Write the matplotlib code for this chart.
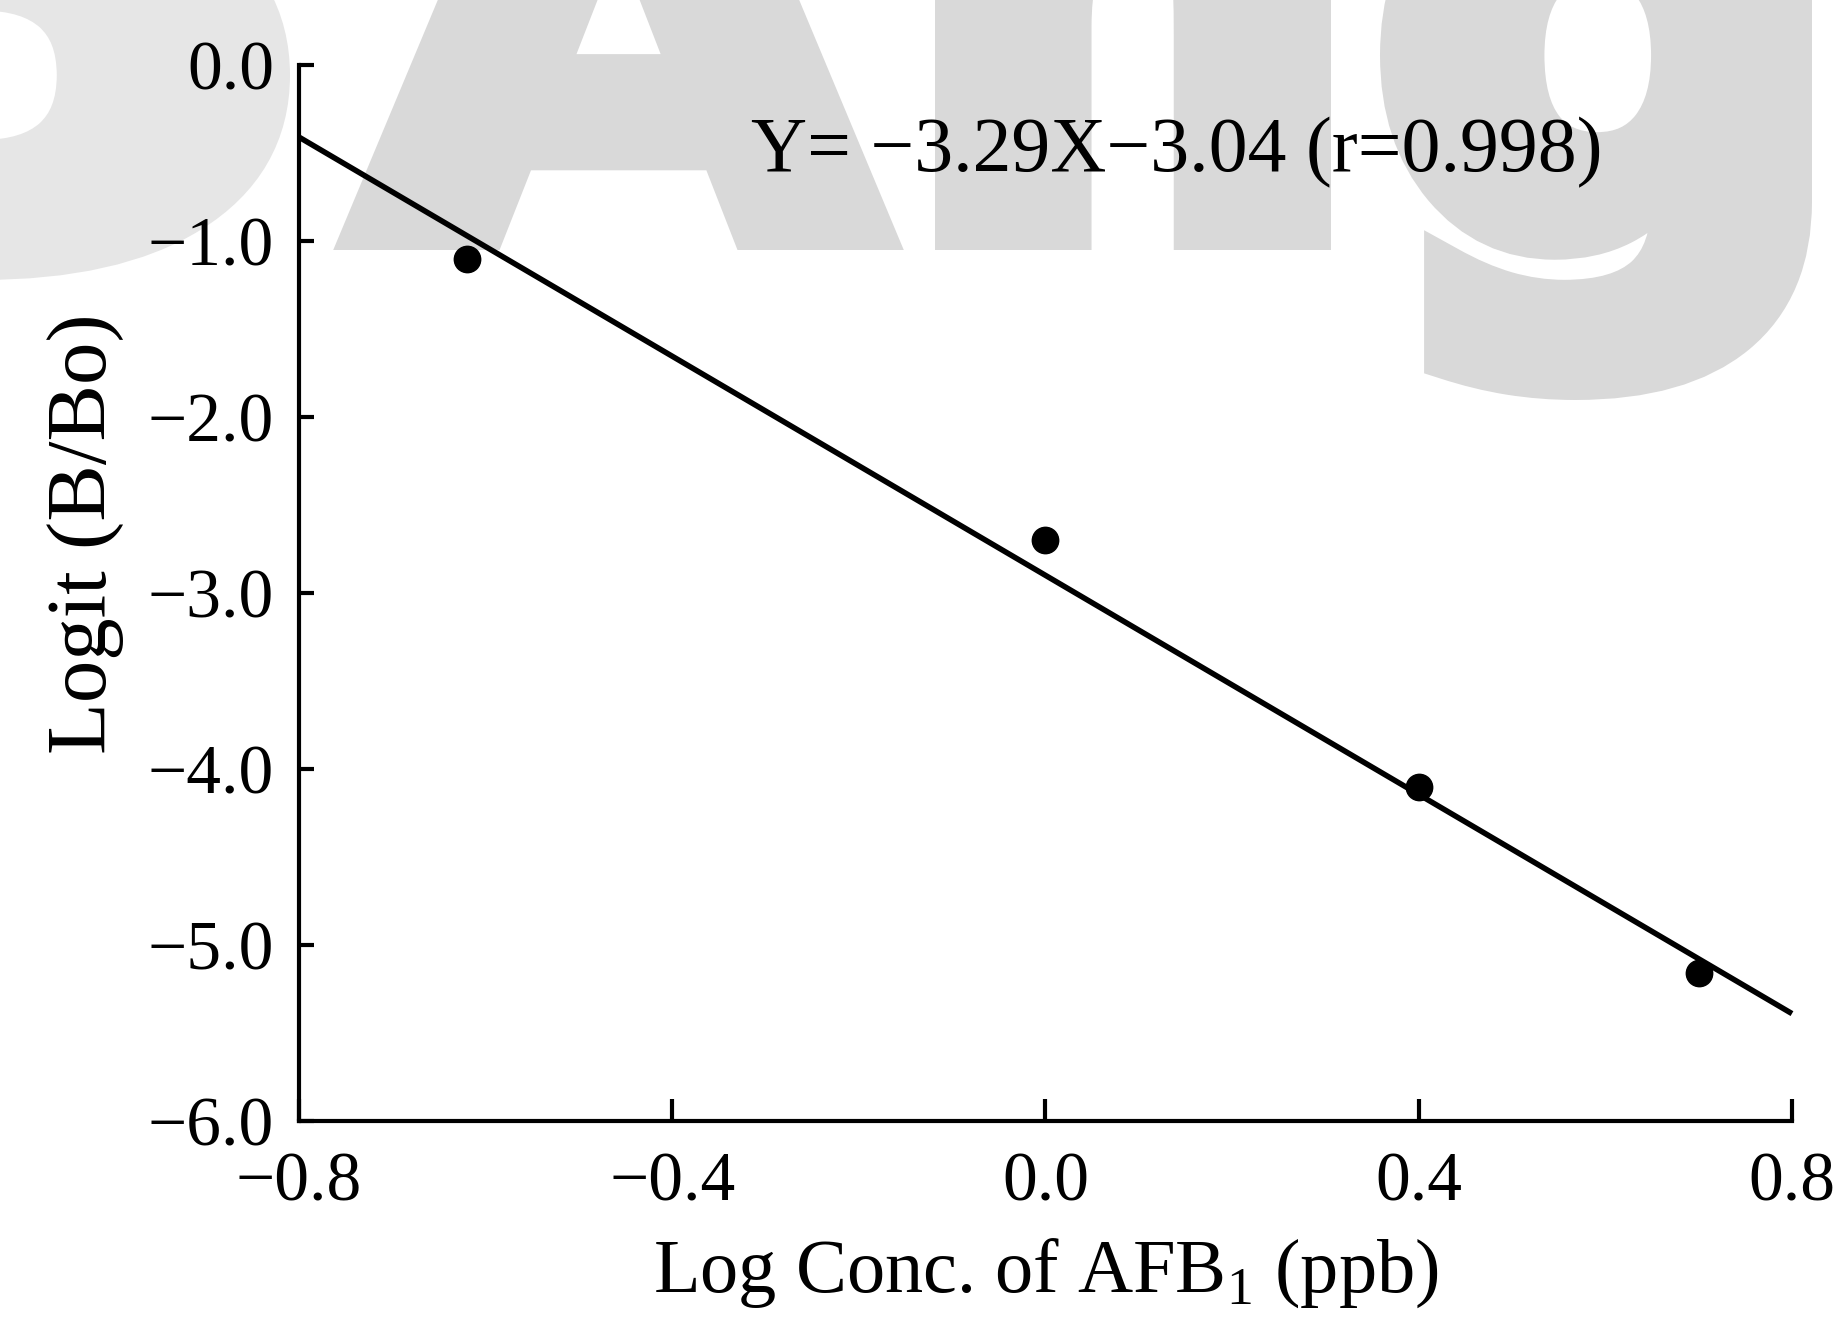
import matplotlib
matplotlib.use("Agg")
import matplotlib.pyplot as plt
from matplotlib.textpath import TextPath
from matplotlib.patches import PathPatch
from matplotlib.font_manager import FontProperties
from matplotlib.transforms import Affine2D, IdentityTransform

# data
log_conc = [-0.62, 0.0, 0.40, 0.70]
logit = [-1.10, -2.70, -4.10, -5.16]
fit_x = [-0.8, 0.8]
fit_y = [-0.41, -5.39]

xticks = [-0.8, -0.4, 0.0, 0.4, 0.8]
xtick_labels = ["\u22120.8", "\u22120.4", "0.0", "0.4", "0.8"]
yticks = [0.0, -1.0, -2.0, -3.0, -4.0, -5.0, -6.0]
ytick_labels = ["0.0", "\u22121.0", "\u22122.0", "\u22123.0", "\u22124.0", "\u22125.0", "\u22126.0"]
equation = "Y= \u22123.29X\u22123.04 (r=0.998)"

plt.rcParams["font.family"] = ["Liberation Serif", "DejaVu Serif"]
plt.rcParams["mathtext.fontset"] = "custom"
plt.rcParams["mathtext.rm"] = "Liberation Serif"

W, H = 1840, 1323
fig = plt.figure(figsize=(W / 100, H / 100), dpi=100)

# grey watermark letters behind the plot (pixel boxes measured on the scan)
wm_font = FontProperties(family="DejaVu Sans", weight="bold")


def watermark(ch, x0, x1, bottom, sy, stroke, color):
    # stroke = extra weight in px, the scan's watermark is very heavy
    half = stroke / 2
    p = TextPath((0, 0), ch, size=100, prop=wm_font)
    ext = p.get_extents()
    sx = (x1 - x0 - stroke) / ext.width
    tr = (Affine2D().translate(-ext.x0, -ext.y0).scale(sx, sy)
          .translate(x0 + half, H - bottom + half))
    fig.add_artist(PathPatch(tr.transform_path(p), transform=IdentityTransform(),
                             facecolor=color, edgecolor=color, lw=stroke * 0.72,
                             joinstyle="miter", zorder=-2))


watermark("o", -330, 290, 280, 6.0, 65, "#e6e6e6")
watermark("A", 342, 895, 250, 6.0, 35, "#d9d9d9")
watermark("n", 935, 1331, 250, 7.5, 45, "#d9d9d9")
watermark("g", 1380, 1812, 400, 6.5, 45, "#d9d9d9")

ax = fig.add_axes([0.1625, 0.1527, 0.8114, 0.7982])
ax.set_facecolor("none")

ax.plot(fit_x, fit_y, color="black", lw=4.0, solid_capstyle="butt", clip_on=False)
ax.plot(log_conc, logit, "o", color="black", ms=19, clip_on=False)

ax.set_xlim(-0.8, 0.8)
ax.set_ylim(-6.0, 0.0)
ax.set_xticks(xticks)
ax.set_xticklabels(xtick_labels)
ax.set_yticks(yticks)
ax.set_yticklabels(ytick_labels)

for s in ["top", "right"]:
    ax.spines[s].set_visible(False)
for s in ["left", "bottom"]:
    ax.spines[s].set_linewidth(3.0)

ax.tick_params(axis="x", direction="in", length=16, width=3.0, pad=22, labelsize=50)
ax.tick_params(axis="y", direction="in", length=11, width=3.0, pad=18, labelsize=50)

ax.text(-0.316, -0.50, equation, fontsize=56, ha="left", va="center")

ax.set_xlabel("Log Conc. of AFB$_\\mathrm{1}$ (ppb)", fontsize=55)
ax.xaxis.set_label_coords(0.5, -0.144)
ax.xaxis.label.set_va("center")
ax.set_ylabel("Logit (B/Bo)", fontsize=61)
ax.yaxis.set_label_coords(-0.143, 0.556)
ax.yaxis.label.set_va("center")

fig.savefig("out.png", dpi=100)
